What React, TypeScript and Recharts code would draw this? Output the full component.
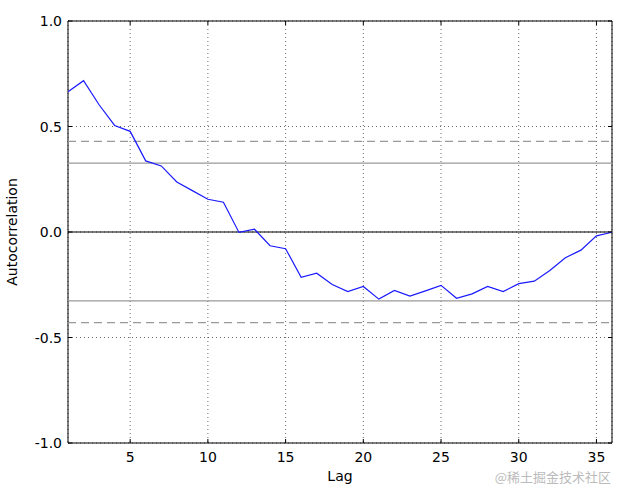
import React from "react";
import {
  CartesianGrid,
  Line,
  LineChart,
  ReferenceArea,
  ReferenceLine,
  XAxis,
  YAxis,
} from "recharts";

const lags = [
  1, 2, 3, 4, 5, 6, 7, 8, 9, 10, 11, 12, 13, 14, 15, 16, 17, 18,
  19, 20, 21, 22, 23, 24, 25, 26, 27, 28, 29, 30, 31, 32, 33, 34, 35, 36,
];
const autocorr = [
  0.665, 0.717, 0.603, 0.505, 0.477, 0.337, 0.313, 0.237, 0.196, 0.155, 0.141, -0.002,
  0.013, -0.065, -0.079, -0.215, -0.195, -0.249, -0.282, -0.258, -0.318, -0.277, -0.304,
  -0.279, -0.253, -0.314, -0.293, -0.258, -0.282, -0.245, -0.233, -0.182, -0.122,
  -0.086, -0.018, -0.001,
];
const xTicks = [5, 10, 15, 20, 25, 30, 35];
const yTicks = [-1, -0.5, 0, 0.5, 1];
// confidence bands for n = 36 (95% solid, 99% dashed)
const band95 = 0.3267;
const band99 = 0.4293;

const W = 617;
const H = 488;
const M = { top: 21, right: 5, bottom: 0, left: 0 };
const Y_W = 68;
const X_H = 45;
const PLOT_W = W - Y_W - M.right;
const PLOT_H = H - M.top - X_H;
const FONT = "'DejaVu Sans', sans-serif";

const data = lags.map((lag, i) => ({ lag, value: autocorr[i] }));

function XTick(props: any) {
  const { x, y, payload } = props;
  return (
    <g>
      <line x1={x} x2={x} y1={y} y2={y - 4} stroke="#000" />
      <line x1={x} x2={x} y1={y - PLOT_H} y2={y - PLOT_H + 4} stroke="#000" />
      <text x={x} y={y + 19} textAnchor="middle" fontSize={14} fontFamily={FONT} fill="#000">
        {payload.value}
      </text>
    </g>
  );
}

function YTick(props: any) {
  const { x, y, payload } = props;
  return (
    <g>
      <line x1={x} x2={x + 4} y1={y} y2={y} stroke="#000" />
      <line x1={x + PLOT_W} x2={x + PLOT_W - 4} y1={y} y2={y} stroke="#000" />
      <text x={x - 6} y={y + 5} textAnchor="end" fontSize={14} fontFamily={FONT} fill="#000">
        {Number(payload.value).toFixed(1)}
      </text>
    </g>
  );
}

export default function App() {
  return (
    <div style={{ position: "absolute", left: 0, top: 0, width: W, height: H, background: "#fff" }}>
      <LineChart width={W} height={H} data={data} margin={M}>
        <CartesianGrid stroke="#000" strokeWidth={0.6} strokeDasharray="1 3" />
        <XAxis
          dataKey="lag"
          type="number"
          domain={[1, 36]}
          ticks={xTicks}
          allowDataOverflow
          height={X_H}
          tickSize={0}
          tickMargin={0}
          axisLine={false}
          tick={<XTick />}
          label={{
            value: "Lag",
            position: "insideBottom",
            offset: 7,
            fontSize: 14,
            fontFamily: FONT,
            fill: "#000",
          }}
        />
        <YAxis
          type="number"
          domain={[-1, 1]}
          ticks={yTicks}
          width={Y_W}
          tickSize={0}
          tickMargin={0}
          axisLine={false}
          tick={<YTick />}
          label={{
            value: "Autocorrelation",
            angle: -90,
            position: "insideLeft",
            offset: 12,
            style: { textAnchor: "middle" },
            fontSize: 14,
            fontFamily: FONT,
            fill: "#000",
          }}
        />
        <ReferenceLine y={band99} stroke="#999" strokeWidth={1.3} strokeDasharray="8 5" />
        <ReferenceLine y={band95} stroke="#999" strokeWidth={1.3} />
        <ReferenceLine y={0} stroke="#000" strokeWidth={1.2} />
        <ReferenceLine y={-band95} stroke="#999" strokeWidth={1.3} />
        <ReferenceLine y={-band99} stroke="#999" strokeWidth={1.3} strokeDasharray="8 5" />
        <Line
          type="linear"
          dataKey="value"
          stroke="#1a1aff"
          strokeWidth={1.2}
          dot={false}
          isAnimationActive={false}
        />
        <ReferenceArea x1={1} x2={36} y1={-1} y2={1} fill="none" stroke="#000" strokeWidth={1} />
      </LineChart>
      <div
        style={{
          position: "absolute",
          right: 6,
          top: 467,
          fontSize: 13,
          color: "#bbb",
          fontFamily: "'Noto Sans CJK SC', sans-serif",
        }}
      >
        @稀土掘金技术社区
      </div>
    </div>
  );
}
